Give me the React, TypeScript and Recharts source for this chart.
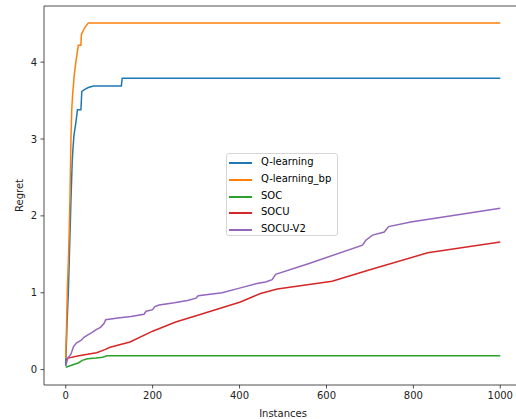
import React from "react";
import { LineChart, Line, XAxis, YAxis, ReferenceArea } from "recharts";

const seriesNames = ["Q-learning", "Q-learning_bp", "SOC", "SOCU", "SOCU-V2"];
const seriesColors = ["#1f77b4", "#ff7f0e", "#2ca02c", "#d62728", "#9467bd"];

const xTicks = [0, 200, 400, 600, 800, 1000];
const yTicks = [0, 1, 2, 3, 4];

const qLearning: [number, number][] = [
  [0, 0.05], [3, 0.6], [6, 1.0], [9, 1.6], [12, 2.2], [15, 2.72], [17, 2.9], [19, 3.05],
  [23, 3.2], [27, 3.38], [35, 3.38], [37, 3.62], [45, 3.65], [52, 3.67], [64, 3.69],
  [128, 3.69], [130, 3.79], [1000, 3.79],
];

const qLearningBp: [number, number][] = [
  [0, 0.15], [2, 0.6], [4, 1.1], [6, 1.4], [8, 1.8], [10, 2.3], [12, 3.0], [14, 3.4],
  [16, 3.59], [20, 3.85], [24, 4.03], [29, 4.22], [35, 4.22], [36, 4.36], [44, 4.45],
  [52, 4.51], [1000, 4.51],
];

const soc: [number, number][] = [
  [0, 0.03], [10, 0.05], [20, 0.07], [30, 0.09], [38, 0.12], [50, 0.14], [70, 0.15],
  [85, 0.16], [95, 0.18], [1000, 0.18],
];

const socu: [number, number][] = [
  [0, 0.12], [5, 0.15], [30, 0.18], [71, 0.22], [90, 0.26], [102, 0.29], [148, 0.36],
  [200, 0.5], [253, 0.62], [300, 0.7], [402, 0.88], [448, 0.99], [487, 1.05],
  [613, 1.15], [700, 1.3], [833, 1.52], [1000, 1.66],
];

const socuV2: [number, number][] = [
  [0, 0.05], [5, 0.15], [12, 0.2], [18, 0.3], [25, 0.35], [35, 0.38], [42, 0.42],
  [50, 0.45], [60, 0.48], [70, 0.52], [80, 0.55], [88, 0.6], [92, 0.65], [120, 0.67],
  [150, 0.69], [180, 0.72], [185, 0.76], [200, 0.78], [205, 0.82], [215, 0.84],
  [250, 0.87], [280, 0.9], [300, 0.93], [305, 0.96], [360, 1.0], [400, 1.06],
  [440, 1.12], [460, 1.14], [475, 1.17], [483, 1.24], [560, 1.38], [683, 1.62],
  [690, 1.68], [706, 1.75], [733, 1.79], [743, 1.86], [794, 1.92], [1000, 2.1],
];

const allSeries = [qLearning, qLearningBp, soc, socu, socuV2];

const toData = (s: [number, number][]) => s.map(([x, y]) => ({ x, y }));

const FONT = "DejaVu Sans, sans-serif";
const X_DOMAIN: [number, number] = [-50, 1050];
const Y_DOMAIN: [number, number] = [-0.2, 4.73];

const LegendBox = () => (
  <div
    style={{
      position: "absolute",
      left: 226,
      top: 153,
      width: 112,
      height: 83,
      border: "1px solid #d6d6d6",
      borderRadius: 3,
      background: "rgba(255,255,255,0.8)",
      fontFamily: FONT,
      fontSize: 10,
      color: "#000",
      boxSizing: "border-box",
    }}
  >
    {seriesNames.map((n, i) => (
      <div
        key={n}
        style={{
          position: "absolute",
          left: 0,
          top: 9.3 + i * 16.7 - 8,
          height: 16,
        }}
      >
        <div
          style={{
            position: "absolute",
            left: 2,
            top: 7,
            width: 23,
            height: 2,
            background: seriesColors[i],
          }}
        />
        <span style={{ position: "absolute", left: 34, top: 1, whiteSpace: "nowrap" }}>{n}</span>
      </div>
    ))}
  </div>
);

export default function App() {
  return (
    <div
      style={{
        position: "absolute",
        left: 0,
        top: 0,
        width: 516,
        height: 419,
        overflow: "hidden",
        background: "#fff",
      }}
    >
      <LineChart width={524} height={419} margin={{ top: 6, right: 2, bottom: 0, left: 0 }}>
        <XAxis
          dataKey="x"
          type="number"
          domain={X_DOMAIN}
          ticks={xTicks}
          allowDataOverflow
          axisLine={false}
          tickLine={{ stroke: "#222", strokeWidth: 0.8 }}
          tickSize={3.5}
          tickMargin={3.5}
          height={34}
          tick={{ fill: "#222", fontSize: 10, fontFamily: FONT }}
          label={{
            value: "Instances",
            position: "insideBottom",
            offset: 2,
            fill: "#222",
            fontSize: 10,
            fontFamily: FONT,
          }}
        />
        <YAxis
          type="number"
          domain={Y_DOMAIN}
          ticks={yTicks}
          allowDataOverflow
          axisLine={false}
          tickLine={{ stroke: "#222", strokeWidth: 0.8 }}
          tickSize={3.5}
          tickMargin={3.5}
          width={44}
          tick={{ fill: "#222", fontSize: 10, fontFamily: FONT }}
          label={{
            content: (props: any) => {
              const vb = props.viewBox || { x: 0, y: 6, width: 44, height: 379 };
              const cx = vb.x + 19.5;
              const cy = vb.y + vb.height / 2;
              return (
                <text
                  x={cx}
                  y={cy}
                  transform={`rotate(-90 ${cx} ${cy})`}
                  textAnchor="middle"
                  dominantBaseline="central"
                  fill="#222"
                  fontSize={10}
                  fontFamily={FONT}
                >
                  Regret
                </text>
              );
            },
          }}
        />
        {allSeries.map((s, i) => (
          <Line
            key={seriesNames[i]}
            data={toData(s)}
            dataKey="y"
            name={seriesNames[i]}
            type="linear"
            stroke={seriesColors[i]}
            strokeWidth={1.5}
            dot={false}
            activeDot={false}
            isAnimationActive={false}
          />
        ))}
        <ReferenceArea
          x1={X_DOMAIN[0]}
          x2={X_DOMAIN[1]}
          y1={Y_DOMAIN[0]}
          y2={Y_DOMAIN[1]}
          fill="none"
          fillOpacity={0}
          stroke="#222"
          strokeWidth={0.8}
          ifOverflow="visible"
        />
      </LineChart>
      <LegendBox />
    </div>
  );
}
